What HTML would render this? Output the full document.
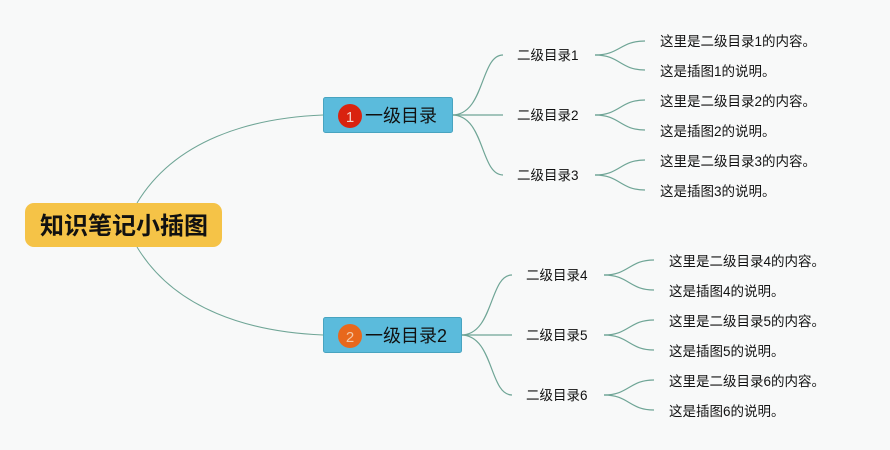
<!DOCTYPE html>
<html><head><meta charset="utf-8"><style>
html,body{margin:0;padding:0;background:#f8f9f9;}
svg{display:block}
text{font-family:"Liberation Sans","Noto Sans CJK SC",sans-serif;}
</style></head><body>
<svg width="890" height="450" viewBox="0 0 890 450" xmlns="http://www.w3.org/2000/svg">
<rect width="890" height="450" fill="#f8f9f9"/>
<g fill="none" stroke="#6fa596" stroke-width="1">
<path d="M137,203 C175,140 250,118 323,115"/>
<path d="M137,247 C175,310 250,332 323,335"/>
<g stroke-width="1.2">
<path d="M452,115 C485,115 480,55 503,55"/>
<path d="M452,115 L503,115"/>
<path d="M452,115 C485,115 480,175 503,175"/>
<path d="M461,335 C494,335 489,275 512,275"/>
<path d="M461,335 L512,335"/>
<path d="M461,335 C494,335 489,395 512,395"/>
</g>
<g stroke-width="1.2">
<path d="M595,55 C620,55 620,41 645,41"/><path d="M595,55 C620,55 620,70 645,70"/>
<path d="M595,115 C620,115 620,100 645,100"/><path d="M595,115 C620,115 620,130 645,130"/>
<path d="M595,175 C620,175 620,160 645,160"/><path d="M595,175 C620,175 620,190 645,190"/>
<path d="M604,275 C629,275 629,260 654,260"/><path d="M604,275 C629,275 629,290 654,290"/>
<path d="M604,335 C629,335 629,320 654,320"/><path d="M604,335 C629,335 629,350 654,350"/>
<path d="M604,395 C629,395 629,380 654,380"/><path d="M604,395 C629,395 629,410 654,410"/>
</g>
</g>
<rect x="25" y="203" width="197" height="44" rx="9" fill="#f5c347"/>
<text x="124" y="234" text-anchor="middle" font-size="24" font-weight="bold" fill="#111">知识笔记小插图</text>
<rect x="323.5" y="97.5" width="129" height="35" rx="2" fill="#5bbbdc" stroke="#48a4c0"/>
<circle cx="350" cy="116" r="12" fill="#d9230f"/>
<text x="350" y="122" text-anchor="middle" font-size="15" fill="#f4d0c8">1</text>
<text x="365" y="122" font-size="18" fill="#111">一级目录</text>
<rect x="323.5" y="317.5" width="138" height="35" rx="2" fill="#5bbbdc" stroke="#48a4c0"/>
<circle cx="350" cy="336" r="12" fill="#e8681c"/>
<text x="350" y="342" text-anchor="middle" font-size="15" fill="#f4c9a8">2</text>
<text x="365" y="342" font-size="18" fill="#111">一级目录2</text>
<g font-size="13.5" fill="#111">
<text x="517" y="60">二级目录1</text>
<text x="517" y="120">二级目录2</text>
<text x="517" y="180">二级目录3</text>
<text x="526" y="280">二级目录4</text>
<text x="526" y="340">二级目录5</text>
<text x="526" y="400">二级目录6</text>
<text x="660" y="46">这里是二级目录1的内容。</text>
<text x="660" y="76">这是插图1的说明。</text>
<text x="660" y="106">这里是二级目录2的内容。</text>
<text x="660" y="136">这是插图2的说明。</text>
<text x="660" y="166">这里是二级目录3的内容。</text>
<text x="660" y="196">这是插图3的说明。</text>
<text x="669" y="266">这里是二级目录4的内容。</text>
<text x="669" y="296">这是插图4的说明。</text>
<text x="669" y="326">这里是二级目录5的内容。</text>
<text x="669" y="356">这是插图5的说明。</text>
<text x="669" y="386">这里是二级目录6的内容。</text>
<text x="669" y="416">这是插图6的说明。</text>
</g>
</svg>
</body></html>
